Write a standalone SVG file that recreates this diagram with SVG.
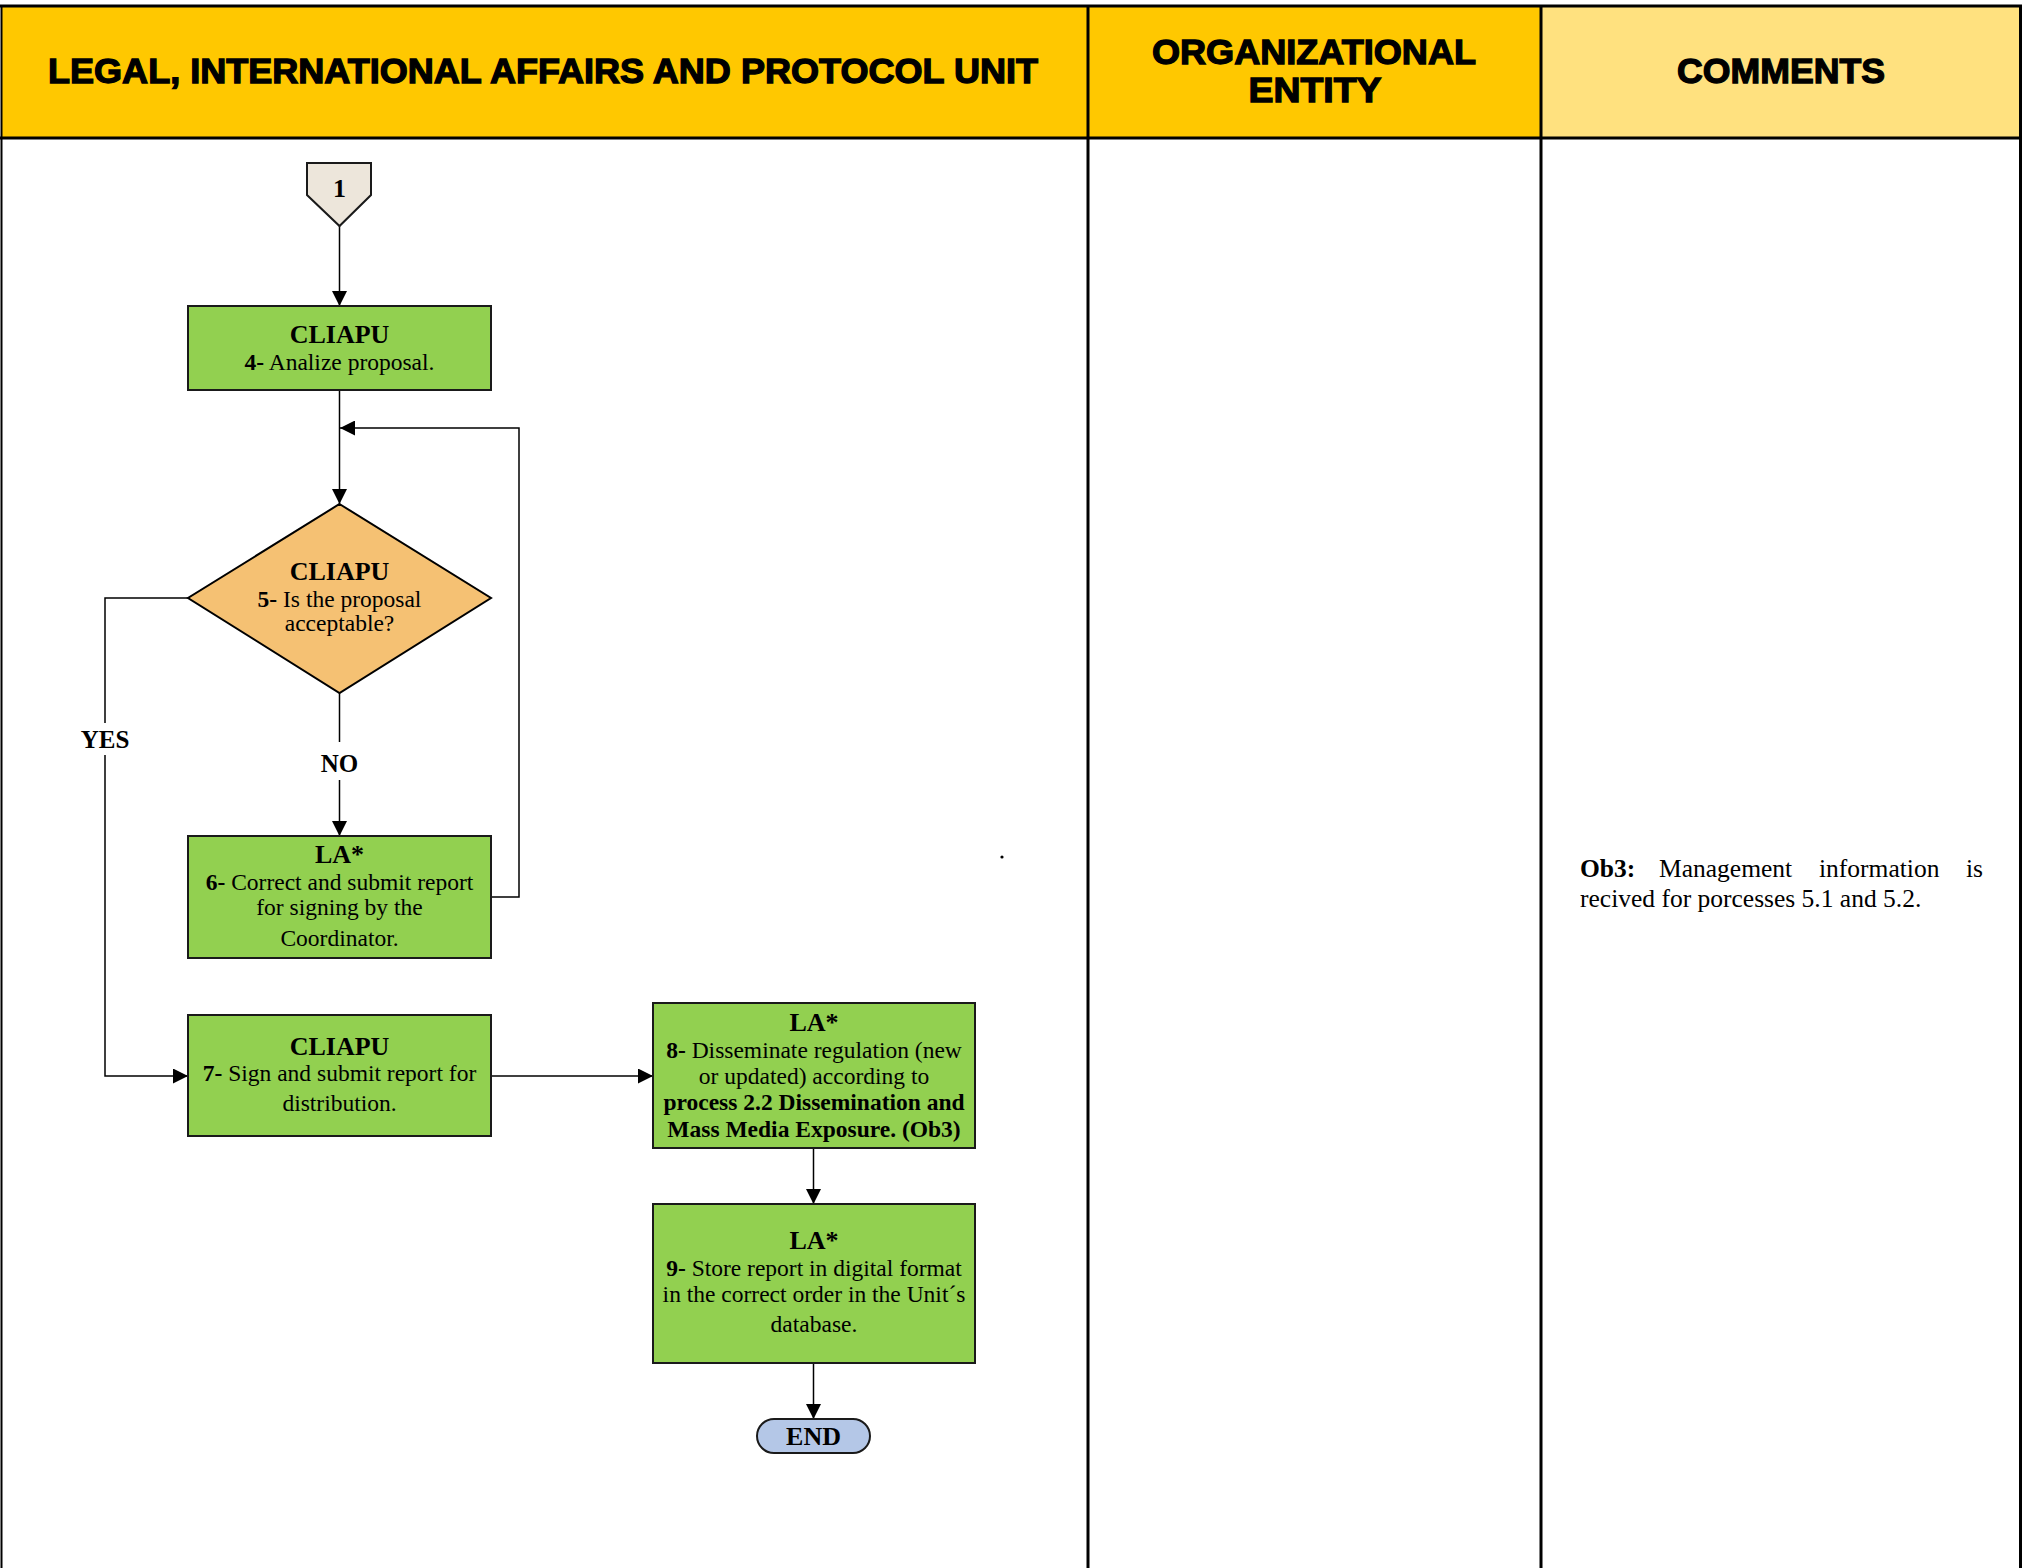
<svg xmlns="http://www.w3.org/2000/svg" width="2024" height="1568" viewBox="0 0 2024 1568">
<style>
.hdr{font-family:"Liberation Sans",Arial,sans-serif;font-weight:bold;font-size:35px;fill:#000;stroke:#000;stroke-width:1.3;text-anchor:middle}
.t{font-family:"Liberation Serif","Times New Roman",serif;font-size:23.5px;fill:#000;text-anchor:middle}
.b{font-weight:bold}
.ttl{font-family:"Liberation Serif","Times New Roman",serif;font-size:26px;font-weight:bold;fill:#000;text-anchor:middle}
.proc{fill:#92D050;stroke:#1a1a1a;stroke-width:2}
.cn{fill:none;stroke:#000;stroke-width:1.5}
.lbl{font-family:"Liberation Serif","Times New Roman",serif;font-size:25px;font-weight:bold;fill:#000;text-anchor:middle}
.cm{font-family:"Liberation Serif","Times New Roman",serif;font-size:25.5px;fill:#000}
</style>
<defs>
<marker id="arrow" viewBox="0 0 15 15" markerWidth="15" markerHeight="15" refX="15" refY="7.5" orient="auto" markerUnits="userSpaceOnUse">
<path d="M0,0 L15,7.5 L0,15 Z" fill="#000"/>
</marker>
</defs>
<rect width="2024" height="1568" fill="#fff"/>
<g id="lanes">
<rect x="1.5" y="6" width="1086.5" height="132" fill="#FFC800"/>
<rect x="1088" y="6" width="453" height="132" fill="#FFC800"/>
<rect x="1541" y="6" width="479" height="132" fill="#FFE17F"/>
<line x1="0" y1="6" x2="2022" y2="6" stroke="#000" stroke-width="3"/>
<line x1="0" y1="138" x2="2022" y2="138" stroke="#000" stroke-width="3"/>
<line x1="1.5" y1="6" x2="1.5" y2="1568" stroke="#000" stroke-width="2"/>
<line x1="1088" y1="6" x2="1088" y2="1568" stroke="#000" stroke-width="3"/>
<line x1="1541" y1="6" x2="1541" y2="1568" stroke="#000" stroke-width="3"/>
<line x1="2020.5" y1="6" x2="2020.5" y2="1568" stroke="#000" stroke-width="3"/>
<text class="hdr" x="543" y="83" textLength="990" lengthAdjust="spacingAndGlyphs">LEGAL, INTERNATIONAL AFFAIRS AND PROTOCOL UNIT</text>
<text class="hdr" x="1314" y="64" textLength="324" lengthAdjust="spacingAndGlyphs">ORGANIZATIONAL</text>
<text class="hdr" x="1315" y="102" textLength="133" lengthAdjust="spacingAndGlyphs">ENTITY</text>
<text class="hdr" x="1781" y="83" textLength="208" lengthAdjust="spacingAndGlyphs">COMMENTS</text>
</g>
<g id="connectors">
<line class="cn" x1="339.5" y1="226" x2="339.5" y2="306" marker-end="url(#arrow)"/>
<line class="cn" x1="339.5" y1="390" x2="339.5" y2="504" marker-end="url(#arrow)"/>
<polyline class="cn" points="491,897 519,897 519,428 340,428" marker-end="url(#arrow)"/>
<polyline class="cn" points="188,598 105,598 105,723"/>
<polyline class="cn" points="105,755 105,1076 188,1076" marker-end="url(#arrow)"/>
<line class="cn" x1="339.5" y1="693" x2="339.5" y2="742"/>
<line class="cn" x1="339.5" y1="780" x2="339.5" y2="836" marker-end="url(#arrow)"/>
<line class="cn" x1="491" y1="1076" x2="653" y2="1076" marker-end="url(#arrow)"/>
<line class="cn" x1="813.5" y1="1148" x2="813.5" y2="1204" marker-end="url(#arrow)"/>
<line class="cn" x1="813.5" y1="1363" x2="813.5" y2="1419" marker-end="url(#arrow)"/>
<text class="lbl" x="105" y="748">YES</text>
<text class="lbl" x="339.5" y="772">NO</text>
</g>
<g id="n1">
<polygon points="307,163 371,163 371,195 339.5,226 307,195" fill="#EDE6DB" stroke="#1a1a1a" stroke-width="2"/>
<text class="ttl" x="339.5" y="197">1</text>
</g>
<g id="n4">
<rect class="proc" x="188" y="306" width="303" height="84"/>
<text class="ttl" x="339.5" y="343">CLIAPU</text>
<text class="t" x="339.5" y="370"><tspan class="b">4-</tspan> Analize proposal.</text>
</g>
<g id="n5">
<polygon points="339.5,504 491,598 339.5,693 188,598" fill="#F5C173" stroke="#000" stroke-width="2"/>
<text class="ttl" x="339.5" y="580">CLIAPU</text>
<text class="t" x="339.5" y="607"><tspan class="b">5-</tspan> Is the proposal</text>
<text class="t" x="339.5" y="631">acceptable?</text>
</g>
<g id="n6">
<rect class="proc" x="188" y="836" width="303" height="122"/>
<text class="ttl" x="339.5" y="863">LA*</text>
<text class="t" x="339.5" y="890"><tspan class="b">6-</tspan> Correct and submit report</text>
<text class="t" x="339.5" y="915">for signing by the</text>
<text class="t" x="339.5" y="946">Coordinator.</text>
</g>
<g id="n7">
<rect class="proc" x="188" y="1015" width="303" height="121"/>
<text class="ttl" x="339.5" y="1055">CLIAPU</text>
<text class="t" x="339.5" y="1081"><tspan class="b">7-</tspan> Sign and submit report for</text>
<text class="t" x="339.5" y="1111">distribution.</text>
</g>
<g id="n8">
<rect class="proc" x="653" y="1003" width="322" height="145"/>
<text class="ttl" x="814" y="1031">LA*</text>
<text class="t" x="814" y="1058"><tspan class="b">8-</tspan> Disseminate regulation (new</text>
<text class="t" x="814" y="1084">or updated) according to</text>
<text class="t b" x="814" y="1110">process 2.2 Dissemination and</text>
<text class="t b" x="814" y="1137">Mass Media Exposure. (Ob3)</text>
</g>
<g id="n9">
<rect class="proc" x="653" y="1204" width="322" height="159"/>
<text class="ttl" x="814" y="1249">LA*</text>
<text class="t" x="814" y="1276"><tspan class="b">9-</tspan> Store report in digital format</text>
<text class="t" x="814" y="1302">in the correct order in the Unit´s</text>
<text class="t" x="814" y="1332">database.</text>
</g>
<g id="end">
<rect x="757" y="1419" width="113" height="34" rx="17" ry="17" fill="#B4C7E7" stroke="#1a1a1a" stroke-width="2"/>
<text class="ttl" x="813.5" y="1445">END</text>
</g>
<g id="dot">
<circle cx="1002" cy="857" r="1.6" fill="#000"/>
</g>
<g id="comment">
<text class="cm" x="1580" y="877" font-weight="bold">Ob3:</text>
<text class="cm" x="1659" y="877">Management</text>
<text class="cm" x="1819" y="877">information</text>
<text class="cm" x="1983" y="877" text-anchor="end">is</text>
<text class="cm" x="1580" y="907">recived for porcesses 5.1 and 5.2.</text>
</g>
</svg>
